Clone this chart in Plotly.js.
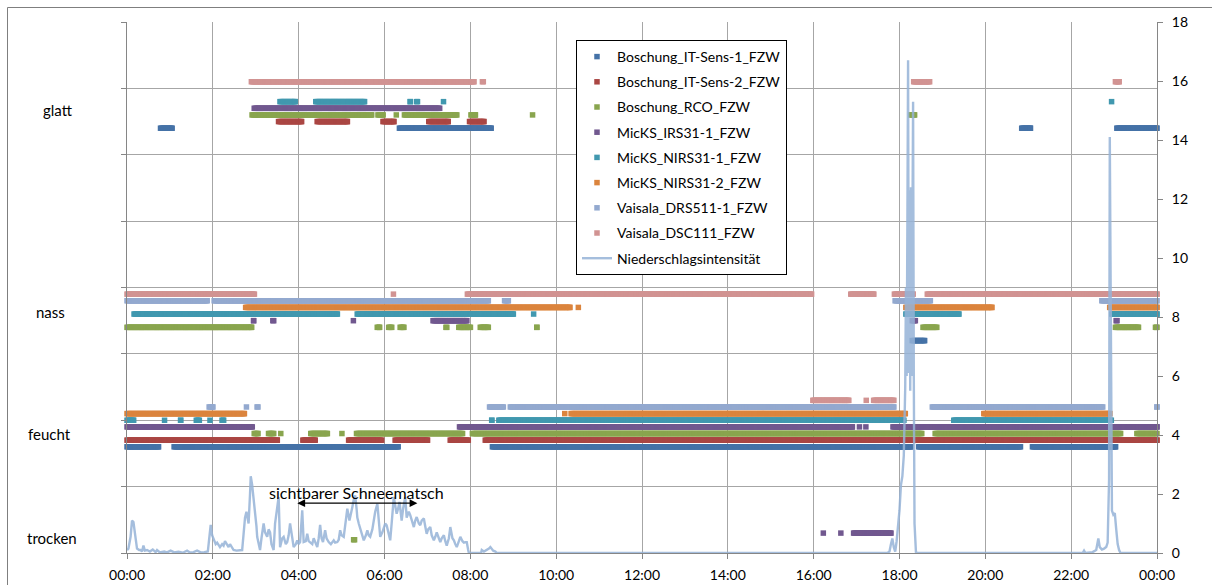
<!DOCTYPE html>
<html>
<head>
<meta charset="utf-8">
<script src="https://cdn.plot.ly/plotly-3.0.1.min.js"></script>
<style>html,body{margin:0;padding:0;background:#fff;}</style>
</head>
<body>
<div id="chart" style="width:1212px;height:585px;"></div>
<script>
// ---------------- DATA ----------------
const tickHours = [0, 2, 4, 6, 8, 10, 12, 14, 16, 18, 20, 22, 24];
const tickLabels = ['00:00','02:00','04:00','06:00','08:00','10:00','12:00','14:00','16:00','18:00','20:00','22:00','00:00'];

const stateNames = ['trocken', 'feucht', 'nass', 'glatt'];
const stateValues = [0, 1.6, 3.2, 6.4];
const stateLabelValues = [0.23, 1.79, 3.63, 6.68];

const sensorNames = ['Boschung_IT-Sens-1_FZW','Boschung_IT-Sens-2_FZW','Boschung_RCO_FZW','MicKS_IRS31-1_FZW',
                     'MicKS_NIRS31-1_FZW','MicKS_NIRS31-2_FZW','Vaisala_DRS511-1_FZW','Vaisala_DSC111_FZW'];
const sensorOffsets = [0, 0.1, 0.2, 0.3, 0.4, 0.5, 0.6, 0.7];

// segments: [state, from, to]
const itSens1 = [
  ['glatt','00:43','01:07'],['glatt','06:17','08:33'],['glatt','20:47','21:07'],['glatt','23:00','24:00'],
  ['nass','18:14','18:39'],
  ['feucht','00:00','00:48'],['feucht','01:02','06:23'],['feucht','08:27','18:20'],['feucht','18:23','20:53'],['feucht','21:02','23:06']
];
const itSens2 = [
  ['glatt','03:28','04:08'],['glatt','04:22','05:12'],['glatt','05:54','06:17'],['glatt','06:58','07:33'],['glatt','07:55','08:23'],
  ['feucht','00:00','03:34'],['feucht','04:02','04:27'],['feucht','05:06','06:00'],['feucht','06:11','07:04'],['feucht','07:28','08:01'],['feucht','08:17','24:00']
];
const rco = [
  ['glatt','02:51','05:46'],['glatt','05:47','06:02'],['glatt','06:13','06:20'],['glatt','06:24','07:45'],['glatt','07:57','08:11'],['glatt','09:24','09:30'],['glatt','18:12','18:25'],
  ['nass','00:00','02:58'],['nass','05:46','05:57'],['nass','06:02','06:14'],['nass','06:18','06:31'],['nass','07:22','07:31'],['nass','07:40','08:04'],['nass','08:10','08:29'],['nass','09:29','09:37'],['nass','18:29','18:56'],['nass','22:58','23:38'],['nass','23:54','24:00'],
  ['feucht','02:54','03:07'],['feucht','03:14','03:29'],['feucht','03:32','03:38'],['feucht','04:13','04:44'],['feucht','04:57','05:04'],['feucht','05:17','07:53'],['feucht','07:59','18:35'],['feucht','18:46','23:13'],['feucht','23:28','24:00'],
  ['trocken','05:13','05:22']
];
const irs31 = [
  ['glatt','02:54','07:21'],
  ['nass','02:53','03:01'],['nass','03:20','03:29'],['nass','05:13','05:20'],['nass','07:04','07:59'],['nass','18:14','18:26'],['nass','22:59','23:08'],
  ['feucht','00:00','02:59'],['feucht','07:41','16:58'],['feucht','17:01','17:07'],['feucht','17:10','17:16'],['feucht','17:47','24:00'],
  ['trocken','16:10','16:17'],['trocken','16:35','16:41'],['trocken','16:52','17:52']
];
const nirs1 = [
  ['glatt','03:30','03:59'],['glatt','04:20','05:36'],['glatt','06:32','06:40'],['glatt','06:41','06:50'],['glatt','07:19','07:26'],['glatt','22:53','23:00'],
  ['nass','00:06','04:58'],['nass','05:18','09:04'],['nass','09:25','09:32'],['nass','18:05','19:27'],['nass','22:53','24:00'],
  ['feucht','00:00','00:13'],['feucht','00:49','00:56'],['feucht','01:11','01:19'],['feucht','01:33','01:45'],['feucht','01:53','01:59'],['feucht','02:09','02:19'],['feucht','08:26','08:34'],['feucht','08:36','18:10'],['feucht','19:12','23:00']
];
const nirs2 = [
  ['nass','02:42','10:23'],['nass','10:29','10:33'],['nass','18:05','20:13'],['nass','22:50','24:00'],
  ['feucht','00:00','02:48'],['feucht','10:09','10:15'],['feucht','10:17','18:12'],['feucht','19:54','22:58']
];
const drs511 = [
  ['nass','00:00','01:56'],['nass','01:58','08:29'],['nass','08:44','08:57'],['nass','17:50','18:47'],['nass','22:39','24:00'],
  ['feucht','01:51','02:04'],['feucht','02:44','02:50'],['feucht','02:58','03:07'],['feucht','08:23','08:50'],['feucht','08:52','17:56'],['feucht','18:42','22:48'],['feucht','23:56','24:00']
];
const dsc111 = [
  ['glatt','02:50','08:09'],['glatt','08:13','08:22'],['glatt','18:16','18:46'],['glatt','22:58','23:11'],
  ['nass','00:00','03:02'],['nass','06:09','06:16'],['nass','07:52','16:01'],['nass','16:48','17:28'],['nass','17:49','18:23'],['nass','18:35','24:00'],
  ['feucht','15:55','16:53'],['feucht','17:10','17:17'],['feucht','17:20','17:56']
];
const sensorSegments = [itSens1, itSens2, rco, irs31, nirs1, nirs2, drs511, dsc111];

// Niederschlagsintensität: minutes after midnight / value (right axis)
const precipMinutes = [
  0,2,5,7,9,12,14,17,19,21,23,25,28,32,36,40,42,46,52,56,61,66,72,78,84,88,93,98,103,108,113,115,117,119,121,124,126,128,130,133,135,137,140,142,144,147,149,153,157,161,
  163,165,167,169,170,172,173,175,176,178,179,181,182,184,186,188,191,193,196,198,200,202,205,207,209,212,214,217,219,222,224,226,228,231,233,236,238,240,242,245,247,250,252,254,256,259,261,264,266,268,
  270,272,274,277,279,282,285,289,291,294,296,298,300,303,305,308,311,313,315,317,319,321,322,324,326,329,331,334,336,338,340,343,345,347,350,352,354,357,359,361,363,366,368,370,373,375,377,379,381,383,
  384,386,389,391,394,396,398,401,403,405,408,410,412,415,417,419,421,424,426,429,431,433,436,438,440,443,445,447,450,452,455,457,459,461,464,466,469,471,473,475,477,478,495,496,499,503,506,508,510,512,515,517,
  1063,1066,1068,1070,1072,1074,1076,1078,1080,1082,1084,1086,1088,1089,1090,1091,1092,1093,1094,1095,1096,1097,1098,1099,1100,1101,1103,1105,
  1336,1338,1340,1350,1355,1358,1360,1363,1366,1369,1371,1373,1374,1376,1377,1379,1381,1383,1385,1387,1389,1440
];
const precipValues = [
  0.1,0.15,0.55,1.1,1.05,0.55,0.15,0.1,0.1,0.05,0.25,0.08,0.1,0.05,0.12,0.03,0.1,0.02,0.05,0.02,0.08,0.02,0.04,0.01,0.08,0.02,0.03,0.08,0.02,0.03,0.05,0.5,0.95,0.6,0.45,0.3,0.35,0.25,0.2,0.3,0.25,0.4,0.25,0.2,0.3,0.15,0.1,0.08,0.1,0.1,
  0.65,1.2,1.4,1.0,1.0,2.0,2.6,2.3,2.1,1.6,1.45,0.9,0.55,0.3,0.1,0.5,1.0,0.7,0.55,0.8,0.7,0.3,0.1,1.0,1.3,1.9,0.2,0.5,0.55,0.3,0.37,0.6,1.0,0.5,0.2,0.3,0.43,0.3,0.37,1.45,0.37,0.4,0.65,0.4,0.37,0.3,0.5,0.3,0.2,0.5,
  0.95,0.5,0.37,0.77,0.5,0.37,0.3,0.43,0.35,0.37,0.45,0.77,0.6,0.55,1.0,1.5,1.1,1.4,1.55,1.8,1.95,1.5,1.2,1.0,0.82,0.6,0.43,0.6,0.77,0.6,0.55,0.8,1.1,1.4,1.67,1.0,0.55,0.7,0.82,1.0,0.94,0.6,0.43,1.0,1.9,1.6,1.33,1.5,1.73,1.3,
  1.1,1.5,1.9,1.2,1.4,1.28,1.1,0.88,1.1,1.22,1.0,0.94,1.1,1.17,0.9,0.65,0.8,0.88,0.6,0.43,0.55,0.7,0.5,0.37,0.5,0.6,0.4,0.25,0.5,0.88,0.5,0.43,0.3,0.2,0.4,0.55,0.4,0.35,0.37,0.37,0.1,0,0,0.1,0.05,0.1,0.15,0.2,0.15,0.08,0.05,0,
  0,0.05,0.3,0.49,0.2,0.05,0.4,0.9,1.45,2.3,2.6,3.3,5.6,9.0,6.0,11.0,16.7,6.1,12.3,5.5,12.4,6.0,12.0,15.3,5.9,1.0,0.03,0,
  0,0.08,0,0.03,0.1,0.49,0.2,0.12,0.15,0.2,0.35,2.5,14.1,4.0,1.44,1.3,1.35,0.8,0.3,0.1,0,0
];
const precipName = 'Niederschlagsintensität';
const noteText = 'sichtbarer Schneematsch';
const noteFrom = '03:56', noteTo = '06:46';

// ---------------- STYLE ----------------
const sensorColors = ['#4572A7','#AA4643','#89A54E','#71588F','#4198AF','#DB843D','#93A9CF','#D19392'];
const precipColor = '#95B3D7';
const gridColor = '#a6a6a6';
const axisColor = '#868686';
const MARKER_SIZE = 5.5;
const PLOT_W = 1030, PLOT_H = 531, ML = 127, MT = 22;

function toHours(t) { const p = t.split(':').map(Number); return p[0] + p[1] / 60; }
const halfMarkerHours = (MARKER_SIZE / 2) / (PLOT_W / 24);
const stepHours = 1.5 / 60;

const traces = [];
sensorSegments.forEach((segs, i) => {
  const xs = [], ys = [];
  segs.forEach(seg => {
    const level = stateValues[stateNames.indexOf(seg[0])] + sensorOffsets[i];
    let s = toHours(seg[1]), e = toHours(seg[2]);
    if (s > 0) s += halfMarkerHours;
    if (e < 24) e -= halfMarkerHours;
    if (e <= s) { const m = (toHours(seg[1]) + toHours(seg[2])) / 2; s = m; e = m; }
    for (let t = s; t < e; t += stepHours) { xs.push(t); ys.push(level); }
    xs.push(e); ys.push(level);
  });
  traces.push({
    type: 'scatter', mode: 'markers', name: sensorNames[i], legendgroup: 'g' + i,
    x: xs, y: ys, xaxis: 'x', yaxis: 'y', cliponaxis: false, hoverinfo: 'skip',
    marker: { symbol: 'square', size: MARKER_SIZE, color: sensorColors[i], line: { width: 0 } }
  });
});
traces.push({
  type: 'scatter', mode: 'lines', name: precipName, legendgroup: 'gp',
  x: precipMinutes.map(m => m / 60), y: precipValues, xaxis: 'x', yaxis: 'y2',
  line: { color: precipColor, width: 2.4 }, opacity: 0.85, hoverinfo: 'skip'
});

const px2paperX = px => (px - ML) / PLOT_W;
const px2paperY = py => (MT + PLOT_H - py) / PLOT_H;

const labelPx = [52, 49, 50, 57.6];
const annotations = stateNames.map((n, k) => ({
  text: n, xref: 'paper', yref: 'y', x: px2paperX(labelPx[k]), y: stateLabelValues[k],
  xanchor: 'center', yanchor: 'middle', showarrow: false, font: { size: 15, color: '#000' }
}));
annotations.push({
  text: noteText, xref: 'x', yref: 'y2', x: (toHours(noteFrom) + toHours(noteTo)) / 2, y: 2.06,
  xanchor: 'center', yanchor: 'middle', showarrow: false, font: { size: 16, color: '#000' }
});
annotations.push({
  text: '', xref: 'x', yref: 'y2', x: toHours(noteTo), y: 1.69, axref: 'x', ayref: 'y2', ax: toHours(noteFrom), ay: 1.69,
  showarrow: true, arrowside: 'end+start', arrowhead: 2, startarrowhead: 2, arrowsize: 1.2, startarrowsize: 1.2,
  arrowwidth: 1.3, arrowcolor: '#000'
});

const layout = {
  width: 1212, height: 585,
  margin: { l: ML, r: 1212 - ML - PLOT_W, t: MT, b: 585 - MT - PLOT_H, pad: 0 },
  paper_bgcolor: '#ffffff', plot_bgcolor: '#ffffff',
  font: { family: 'Lato, "Open Sans", sans-serif', size: 14, color: '#000' },
  showlegend: true,
  legend: {
    x: px2paperX(576), y: px2paperY(40), xanchor: 'left', yanchor: 'top',
    bgcolor: '#ffffff', bordercolor: '#000000', borderwidth: 1,
    traceorder: 'grouped', tracegroupgap: 4, font: { size: 14, color: '#000' }
  },
  xaxis: {
    range: [0, 24], tickmode: 'array', tickvals: tickHours, ticktext: tickLabels,
    showgrid: true, gridcolor: gridColor, gridwidth: 1, zeroline: false,
    showline: true, linecolor: axisColor, linewidth: 1,
    ticks: 'outside', ticklen: 5, tickcolor: axisColor, ticklabelstandoff: 4,
    tickfont: { size: 14, color: '#000' }, fixedrange: true
  },
  yaxis: {
    range: [0, 8], tick0: 0, dtick: 1, showgrid: true, gridcolor: gridColor, gridwidth: 1,
    showticklabels: false, ticks: 'outside', ticklen: 5, tickcolor: axisColor,
    showline: true, linecolor: axisColor, linewidth: 1, zeroline: false, fixedrange: true
  },
  yaxis2: {
    range: [0, 18], tick0: 0, dtick: 2, overlaying: 'y', side: 'right', showgrid: false, zeroline: false,
    showline: true, linecolor: axisColor, linewidth: 1, ticks: 'outside', ticklen: 5, tickcolor: axisColor,
    ticklabelstandoff: 6, tickfont: { size: 14, color: '#000' }, fixedrange: true
  },
  annotations: annotations,
  shapes: [{
    type: 'rect', xref: 'paper', yref: 'paper', layer: 'above',
    x0: px2paperX(7.5), x1: px2paperX(1230), y0: px2paperY(600), y1: px2paperY(7.5),
    line: { color: '#7f7f7f', width: 1 }, fillcolor: 'rgba(0,0,0,0)'
  }]
};

Plotly.newPlot('chart', traces, layout, { displayModeBar: false, staticPlot: true });
</script>
</body>
</html>
